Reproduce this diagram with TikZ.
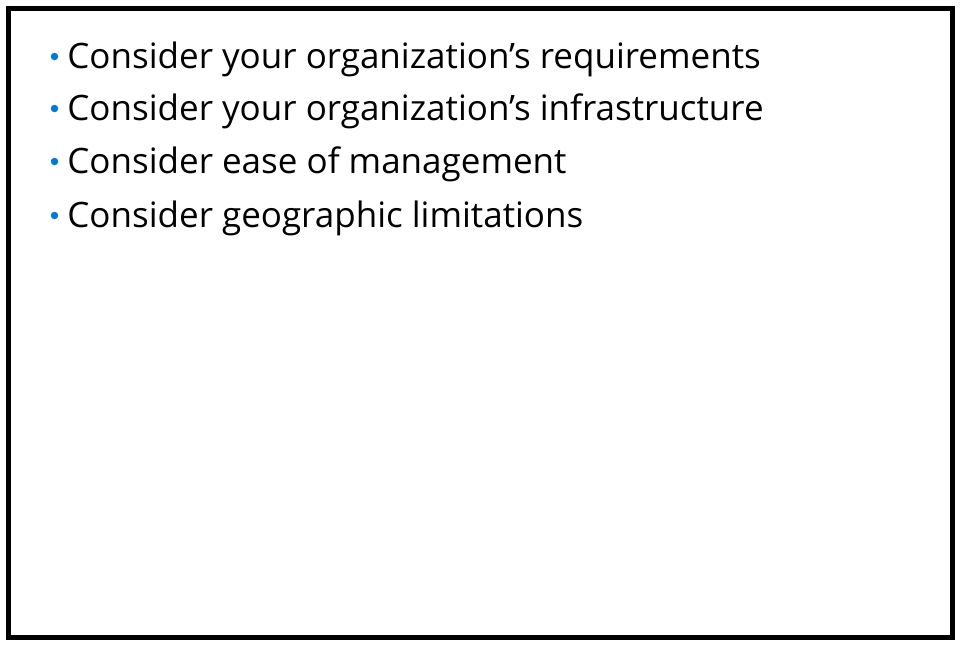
\documentclass[tikz,border=0pt]{standalone}
\usepackage{fontspec}
\setmainfont{Open Sans}
\definecolor{bulletblue}{RGB}{0,120,212}
\begin{document}
\begin{tikzpicture}[x=1pt,y=-1pt,thick,
    item node/.style={anchor=base west,inner sep=0pt,font=\fontsize{35}{40}\selectfont},
    bullet node/.style={circle,fill=bulletblue,inner sep=0pt,minimum size=7.5pt}]
        \useasboundingbox (0,0) rectangle (960,645);
        \draw[line width=5pt] (8.5,8.5) rectangle (952.5,637.5);

        \node[item node] at (67,68) (req) {Consider your organization’s requirements};
        \node[item node] at (67,120) (infra) {Consider your organization’s infrastructure};
        \node[item node] at (67,173) (mgmt) {Consider ease of management};
        \node[item node] at (67,227) (geo) {Consider geographic limitations};

        \node[bullet node] at (54.5,56.5) (b1) {};
        \node[bullet node] at (54.5,108.5) (b2) {};
        \node[bullet node] at (54.5,161.5) (b3) {};
        \node[bullet node] at (54.5,215.5) (b4) {};
\end{tikzpicture}
\end{document}
